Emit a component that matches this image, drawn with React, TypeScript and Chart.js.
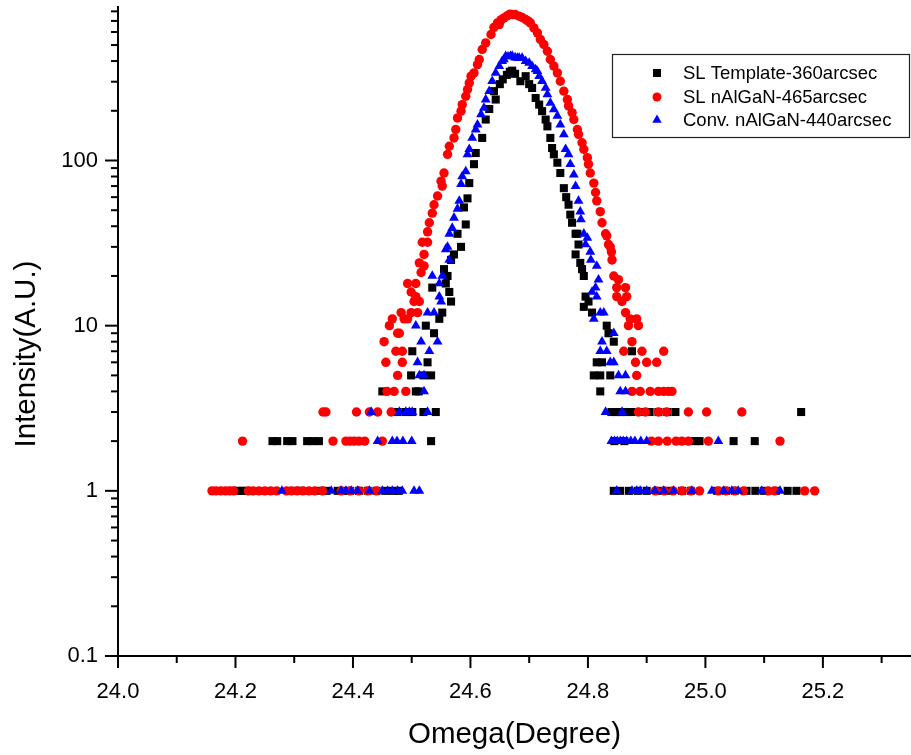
import React, { useEffect, useRef } from 'react';
import { Chart, registerables } from 'chart.js';

Chart.register(...registerables);

// ---------- axis / tick data ----------
const xMajorTicks = [24.0, 24.2, 24.4, 24.6, 24.8, 25.0, 25.2];
const xMinorTicks = [24.1, 24.3, 24.5, 24.7, 24.9, 25.1, 25.3];
const yLabelTicks = [0.1, 1, 10, 100];
const yMinorMultipliers = [2, 3, 4, 5, 6, 7, 8, 9];
const xMin = 24.0;
const xMax = 25.35;
const yMin = 0.1;
const yMax = 850;

const seriesNames = ['SL Template-360arcsec', 'SL nAlGaN-465arcsec', 'Conv. nAlGaN-440arcsec'];
const seriesColors = ['#000000', '#ff0000', '#0000ff'];

// ---------- SL Template-360arcsec (black squares) ----------
const templateX = [
  24.196, 24.204, 24.212, 24.219, 24.304, 24.312, 24.345, 24.355, 24.374, 24.383, 24.395, 24.41, 24.425, 24.44, 24.455, 24.468, 24.478,
  24.263, 24.271, 24.288, 24.297, 24.322, 24.331, 24.342, 24.533,
  24.476, 24.49, 24.501, 24.52, 24.541,
  24.45, 24.507, 24.512,
  24.499, 24.52, 24.533,
  24.527, 24.501, 24.538, 24.524, 24.547, 24.552, 24.567, 24.564, 24.535, 24.558, 24.561, 24.555, 24.567, 24.572, 24.584, 24.578,
  24.592, 24.589, 24.595, 24.598, 24.606, 24.609, 24.62, 24.626, 24.632, 24.64, 24.643,
  24.65, 24.655, 24.662, 24.667, 24.671, 24.676, 24.685, 24.694, 24.70, 24.705, 24.711, 24.717, 24.722, 24.728, 24.731, 24.736,
  24.739, 24.742, 24.748, 24.753, 24.759, 24.763, 24.767, 24.77, 24.773, 24.779, 24.782, 24.784, 24.779, 24.787, 24.79, 24.793,
  24.796, 24.793, 24.801, 24.807, 24.832, 24.835, 24.844, 24.875, 24.815, 24.824, 24.81, 24.821, 24.838, 24.821,
  24.84, 24.848, 24.856, 24.864, 24.874, 24.89, 24.905, 24.92, 24.935, 24.949, 25.163,
  24.845, 24.862, 24.982, 24.99, 25.048, 25.084,
  24.844, 24.855, 24.87, 24.885, 24.90, 24.92, 24.94, 24.96, 24.975, 25.02, 25.035, 25.05, 25.07, 25.085, 25.10, 25.12, 25.14, 25.155,
];
const templateY = [
  1, 1, 1, 1, 1, 1, 1, 1, 1, 1, 1, 1, 1, 1, 1, 1, 1,
  2, 2, 2, 2, 2, 2, 2, 2,
  3, 3, 3, 3, 3,
  4, 4, 4,
  5, 5, 5,
  6, 7, 9, 10, 11, 12, 14, 16, 17, 18, 20, 22, 25, 27, 30, 36,
  41, 52, 59, 73, 95, 111, 137, 177, 205, 263, 234,
  290, 310, 330, 345, 350, 335, 302, 324, 290, 275, 239, 218, 199, 177, 161, 137,
  119, 109, 97, 84, 68, 60, 54, 47, 42, 36, 36, 31, 27, 24, 22, 20,
  15, 13, 14, 12, 10, 9, 8, 7, 6, 6, 5, 5, 5, 4,
  3, 3, 3, 3, 3, 3, 3, 3, 3, 3, 3,
  2, 2, 2, 2, 2, 2,
  1, 1, 1, 1, 1, 1, 1, 1, 1, 1, 1, 1, 1, 1, 1, 1, 1, 1,
];

// ---------- SL nAlGaN-465arcsec (red circles) ----------
const slX = [
  24.16, 24.167, 24.175, 24.183, 24.19, 24.197, 24.222, 24.23, 24.24, 24.25, 24.26, 24.27, 24.287, 24.295, 24.305, 24.315, 24.325, 24.335, 24.348, 24.38, 24.395, 24.41, 24.425, 24.44,
  24.212, 24.366, 24.388, 24.395, 24.402, 24.41, 24.42, 24.45,
  24.349, 24.354, 24.406, 24.428, 24.442, 24.465,
  24.458, 24.47, 24.49,
  24.476, 24.456, 24.484, 24.473, 24.484, 24.453, 24.476, 24.479, 24.462, 24.467, 24.487, 24.493, 24.482, 24.499, 24.51,
  24.504, 24.513, 24.507, 24.499, 24.493, 24.507, 24.516, 24.513, 24.521, 24.521, 24.518, 24.527, 24.527,
  24.53, 24.535, 24.538, 24.544, 24.552, 24.55, 24.555, 24.561, 24.564, 24.572, 24.575, 24.578, 24.584, 24.586, 24.592, 24.595,
  24.598, 24.601, 24.606, 24.612, 24.615, 24.62, 24.626, 24.635, 24.64, 24.646, 24.649, 24.652, 24.657, 24.662, 24.667, 24.671,
  24.676, 24.683, 24.688, 24.694, 24.698, 24.702, 24.708, 24.714, 24.719, 24.725, 24.731, 24.736, 24.742, 24.748, 24.753, 24.759,
  24.765, 24.767, 24.773, 24.776, 24.782, 24.784, 24.79, 24.793, 24.799, 24.801, 24.804, 24.81, 24.813, 24.815, 24.821, 24.824,
  24.83, 24.832, 24.835, 24.838, 24.84, 24.841, 24.844, 24.852, 24.849, 24.864, 24.849, 24.866, 24.858, 24.864, 24.872, 24.883,
  24.869, 24.886, 24.875, 24.861, 24.892, 24.929, 24.881, 24.9, 24.917, 24.883,
  24.875, 24.889, 24.906, 24.92, 24.929, 24.937, 24.943,
  24.886, 24.898, 24.92, 24.934, 24.971, 25.002, 25.062,
  24.908, 24.92, 24.935, 24.95, 24.96, 24.971, 25.005, 25.127,
  24.915, 24.93, 24.945, 24.96, 24.975, 24.99, 25.022, 25.035, 25.05, 25.065, 25.107, 25.118, 25.169, 25.186,
];
const slY = [
  1, 1, 1, 1, 1, 1, 1, 1, 1, 1, 1, 1, 1, 1, 1, 1, 1, 1, 1, 1, 1, 1, 1, 1,
  2, 2, 2, 2, 2, 2, 2, 2,
  3, 3, 3, 3, 3, 3,
  4, 4, 4,
  5, 6, 6, 7, 7, 8, 9, 9, 10, 11, 11, 11, 12, 12, 12,
  14, 14, 15, 16, 18, 18, 21, 24, 23, 27, 32, 32, 37,
  42, 48, 54, 61, 70, 75, 84, 109, 122, 137, 154, 181, 199, 218, 245, 269,
  295, 324, 339, 381, 409, 470, 515, 579, 640, 681, 665, 710, 730, 750, 770, 765,
  765, 748, 735, 714, 700, 681, 635, 593, 541, 504, 459, 409, 373, 339, 302, 263,
  234, 214, 195, 177, 154, 144, 128, 117, 104, 95, 84, 73, 64, 57, 49, 42,
  36, 35, 31, 30, 28, 25, 20, 19, 17, 17, 15, 15, 14, 12, 11, 11,
  10, 10, 8, 7, 7, 7, 6, 6, 6, 5,
  4, 4, 4, 4, 4, 4, 4,
  3, 3, 3, 3, 3, 3, 3,
  2, 2, 2, 2, 2, 2, 2, 2,
  1, 1, 1, 1, 1, 1, 1, 1, 1, 1, 1, 1, 1, 1,
];

// ---------- Conv. nAlGaN-440arcsec (blue triangles) ----------
const convX = [
  24.279, 24.363, 24.38, 24.388, 24.397, 24.408, 24.428, 24.45, 24.459, 24.467, 24.476, 24.484, 24.504, 24.513,
  24.442, 24.467, 24.475, 24.485, 24.50,
  24.431, 24.479, 24.49, 24.496, 24.501, 24.527,
  24.521, 24.513, 24.521, 24.51, 24.53, 24.516, 24.544, 24.507, 24.527, 24.538, 24.55, 24.547, 24.547, 24.535, 24.552,
  24.564, 24.558, 24.561, 24.564, 24.569, 24.572, 24.578, 24.581, 24.584, 24.586, 24.592, 24.595, 24.598, 24.603, 24.609, 24.612,
  24.618, 24.623, 24.626, 24.632, 24.637, 24.643, 24.649, 24.654, 24.657, 24.66, 24.664, 24.668, 24.671, 24.676, 24.68, 24.683,
  24.688, 24.694, 24.70, 24.705, 24.711, 24.714, 24.717, 24.722, 24.728, 24.731, 24.736, 24.742, 24.748, 24.753, 24.759, 24.762,
  24.767, 24.77, 24.776, 24.779, 24.784, 24.787, 24.788, 24.793, 24.799, 24.796, 24.804, 24.805, 24.815, 24.818, 24.813, 24.807,
  24.815, 24.821, 24.827, 24.81, 24.844, 24.824, 24.821, 24.832, 24.838, 24.844, 24.852, 24.864, 24.855, 24.864, 24.83, 24.858,
  24.84, 24.845, 24.85, 24.855, 24.86, 24.866, 24.873, 24.88, 24.89, 24.9, 25.022,
  24.849, 24.875, 24.883, 24.889, 24.9, 24.914, 24.929, 24.946, 24.977, 25.011, 25.031, 25.045, 25.056, 25.096, 25.127,
];
const convY = [
  1, 1, 1, 1, 1, 1, 1, 1, 1, 1, 1, 1, 1, 1,
  2, 2, 2, 2, 2,
  3, 3, 3, 3, 3, 3,
  4, 5, 5, 6, 7, 8, 8, 10, 12, 12, 14, 15, 18, 20, 20,
  25, 29, 30, 36, 39, 45, 51, 57, 72, 80, 86, 109, 117, 137, 154, 165,
  190, 208, 234, 263, 302, 339, 373, 399, 409, 428, 425, 428, 430, 420, 418, 418,
  418, 399, 390, 373, 356, 347, 324, 302, 275, 251, 223, 204, 186, 165, 144, 117,
  109, 95, 82, 70, 57, 49, 44, 36, 34, 31, 28, 25, 23, 19, 17, 16,
  15, 12, 12, 11, 9, 8, 7, 7, 6, 6, 5, 5, 4, 4, 3, 3,
  2, 2, 2, 2, 2, 2, 2, 2, 2, 2, 2,
  1, 1, 1, 1, 1, 1, 1, 1, 1, 1, 1, 1, 1, 1, 1,
];

const FONT = "Arial, 'Liberation Sans', Helvetica, sans-serif";

function toPoints(xs: number[], ys: number[]) {
  return xs.map((x, i) => ({ x, y: ys[i] }));
}

function drawMarker(ctx: CanvasRenderingContext2D, style: string, x: number, y: number, color: string) {
  ctx.fillStyle = color;
  ctx.beginPath();
  if (style === 'rect') {
    ctx.rect(x - 4, y - 4, 8, 8);
  } else if (style === 'circle') {
    ctx.arc(x, y, 4.5, 0, Math.PI * 2);
  } else {
    const r = 5.5;
    ctx.moveTo(x, y - r);
    ctx.lineTo(x + r * Math.sin((2 * Math.PI) / 3), y - r * Math.cos((2 * Math.PI) / 3));
    ctx.lineTo(x + r * Math.sin((4 * Math.PI) / 3), y - r * Math.cos((4 * Math.PI) / 3));
    ctx.closePath();
  }
  ctx.fill();
}

const decorPlugin = {
  id: 'decor',
  afterDraw(chart: any) {
    const { ctx, chartArea, scales } = chart;
    const xs = scales.x;
    const ys = scales.y;
    ctx.save();
    ctx.strokeStyle = '#000';
    ctx.lineWidth = 2;
    const tick = (x1: number, y1: number, x2: number, y2: number) => {
      ctx.beginPath();
      ctx.moveTo(x1, y1);
      ctx.lineTo(x2, y2);
      ctx.stroke();
    };
    xMajorTicks.forEach((v) => {
      const px = xs.getPixelForValue(v);
      tick(px, chartArea.bottom, px, chartArea.bottom + 12);
    });
    xMinorTicks.forEach((v) => {
      const px = xs.getPixelForValue(v);
      if (px <= chartArea.right) tick(px, chartArea.bottom, px, chartArea.bottom + 7);
    });
    yLabelTicks.forEach((v) => {
      const py = ys.getPixelForValue(v);
      tick(chartArea.left - 13, py, chartArea.left, py);
      yMinorMultipliers.forEach((m) => {
        const mv = v * m;
        if (mv <= yMax) {
          const mp = ys.getPixelForValue(mv);
          tick(chartArea.left - 7, mp, chartArea.left, mp);
        }
      });
    });

    // axis titles
    ctx.fillStyle = '#000';
    ctx.font = `29.5px ${FONT}`;
    ctx.textAlign = 'center';
    ctx.textBaseline = 'middle';
    ctx.fillText('Omega(Degree)', (chartArea.left + chartArea.right) / 2, 735);
    ctx.save();
    ctx.translate(27, 354);
    ctx.rotate(-Math.PI / 2);
    ctx.fillText('Intensity(A.U.)', 0, 0);
    ctx.restore();

    // legend
    ctx.lineWidth = 1.2;
    ctx.strokeStyle = '#222';
    ctx.strokeRect(612.5, 54.5, 297, 83);
    const styles = ['rect', 'circle', 'triangle'];
    const rowsY = [73, 97, 120];
    ctx.font = `18.5px ${FONT}`;
    ctx.textAlign = 'left';
    ctx.textBaseline = 'middle';
    seriesNames.forEach((name, i) => {
      drawMarker(ctx, styles[i], 657, rowsY[i], seriesColors[i]);
      ctx.fillStyle = '#000';
      ctx.fillText(name, 683, rowsY[i] + 1);
    });
    ctx.restore();
  },
};

export default function App() {
  const canvasRef = useRef<HTMLCanvasElement | null>(null);

  useEffect(() => {
    if (!canvasRef.current) return;
    const chart = new Chart(canvasRef.current, {
      type: 'scatter',
      data: {
        datasets: [
          {
            label: seriesNames[0],
            data: toPoints(templateX, templateY),
            pointStyle: 'rect',
            pointRadius: 5.7,
            backgroundColor: seriesColors[0],
            borderColor: seriesColors[0],
            borderWidth: 0,
            order: 3,
          },
          {
            label: seriesNames[1],
            data: toPoints(slX, slY),
            pointStyle: 'circle',
            pointRadius: 4.7,
            backgroundColor: seriesColors[1],
            borderColor: seriesColors[1],
            borderWidth: 0,
            order: 2,
          },
          {
            label: seriesNames[2],
            data: toPoints(convX, convY),
            pointStyle: 'triangle',
            pointRadius: 5.7,
            backgroundColor: seriesColors[2],
            borderColor: seriesColors[2],
            borderWidth: 0,
            order: 1,
          },
        ],
      },
      options: {
        responsive: false,
        animation: false,
        devicePixelRatio: 1,
        events: [],
        layout: { autoPadding: false, padding: { top: 7, right: 0, bottom: 0, left: 0 } },
        plugins: {
          legend: { display: false },
          tooltip: { enabled: false },
        },
        scales: {
          x: {
            type: 'linear',
            position: 'bottom',
            min: xMin,
            max: xMax,
            grid: { display: false, drawTicks: false },
            border: { display: true, color: '#000', width: 2 },
            ticks: {
              stepSize: 0.2,
              includeBounds: false,
              autoSkip: false,
              maxRotation: 0,
              padding: 23,
              color: '#000',
              font: { family: FONT, size: 22 },
              callback: (v: any) => Number(v).toFixed(1),
            },
            afterFit: (s: any) => {
              s.height = 99;
              s.paddingLeft = 0;
              s.paddingRight = 0;
            },
          },
          y: {
            type: 'logarithmic',
            min: yMin,
            max: yMax,
            grid: { display: false, drawTicks: false },
            border: { display: true, color: '#000', width: 2 },
            ticks: {
              autoSkip: false,
              padding: 20,
              color: '#000',
              font: { family: FONT, size: 22 },
              callback: (v: any) => {
                const n = Number(v);
                const t = yLabelTicks.find((k) => Math.abs(k - n) / k < 1e-6);
                return t === undefined ? null : String(t);
              },
            },
            afterFit: (s: any) => {
              s.width = 118;
              s.paddingTop = 0;
              s.paddingBottom = 0;
            },
          },
        },
      },
      plugins: [decorPlugin],
    } as any);
    return () => chart.destroy();
  }, []);

  return (
    <div style={{ position: 'absolute', left: 0, top: 0, width: 911, height: 755, background: '#fff' }}>
      <canvas ref={canvasRef} width={911} height={755} style={{ display: 'block' }} />
    </div>
  );
}
